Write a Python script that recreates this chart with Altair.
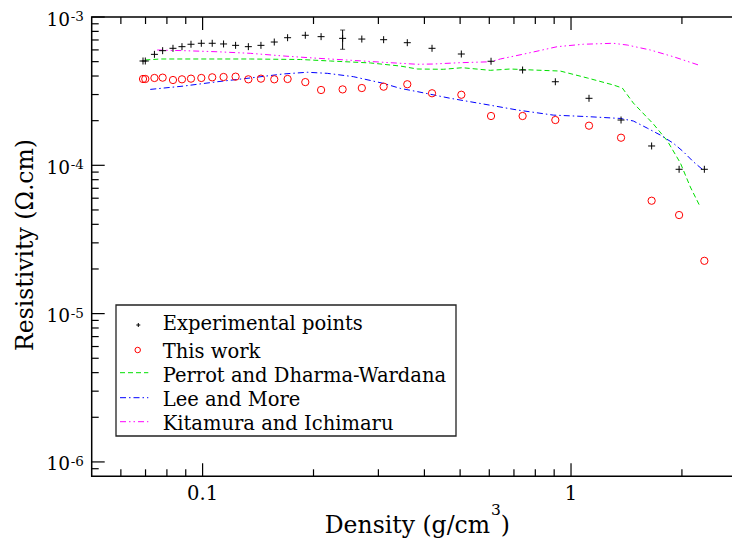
import altair as alt
import pandas as pd

# ---------------- data ----------------
density = [0.0689, 0.0699, 0.0740, 0.0779, 0.0831, 0.0879, 0.0930, 0.0992, 0.1062, 0.1140,
           0.1229, 0.1331, 0.1440, 0.1565, 0.1701, 0.1900, 0.2097, 0.2399, 0.2705, 0.3100,
           0.3594, 0.4195, 0.5038, 0.6066, 0.7389, 0.9066, 1.119, 1.367, 1.655, 1.965, 2.301]
experimental = [5.05e-4, 5.05e-4, 5.60e-4, 5.93e-4, 6.15e-4, 6.31e-4, 6.55e-4, 6.65e-4, 6.65e-4, 6.58e-4,
                6.44e-4, 6.31e-4, 6.44e-4, 6.78e-4, 7.25e-4, 7.53e-4, 7.37e-4, 7.18e-4, 7.10e-4, 7.03e-4,
                6.71e-4, 6.15e-4, 5.63e-4, 5.03e-4, 4.39e-4, 3.66e-4, 2.83e-4, 2.02e-4, 1.35e-4, 9.4e-5, 9.4e-5]
this_work = [3.82e-4, 3.82e-4, 3.88e-4, 3.90e-4, 3.76e-4, 3.80e-4, 3.84e-4, 3.88e-4, 3.92e-4, 3.94e-4,
             3.96e-4, 3.80e-4, 3.84e-4, 3.80e-4, 3.82e-4, 3.64e-4, 3.22e-4, 3.25e-4, 3.32e-4, 3.39e-4,
             3.52e-4, 3.06e-4, 2.99e-4, 2.15e-4, 2.15e-4, 2.02e-4, 1.85e-4, 1.535e-4, 5.77e-5, 4.62e-5, 2.27e-5]

err_x = [0.2399]
err_lo = [6.06e-4]
err_hi = [8.17e-4]

perrot_x = [0.0699, 0.0768, 0.0986, 0.1347, 0.1842, 0.2222, 0.2852, 0.3441, 0.3826, 0.4502, 0.5070, 0.6040,
            0.6844, 0.7903, 0.9355, 1.1075, 1.303, 1.378, 1.476, 1.673, 1.826, 1.981, 2.108, 2.244]
perrot_y = [5.13e-4, 5.21e-4, 5.21e-4, 5.21e-4, 5.17e-4, 5.05e-4, 4.90e-4, 4.67e-4, 4.46e-4, 4.44e-4, 4.55e-4, 4.37e-4,
            4.46e-4, 4.39e-4, 4.32e-4, 3.88e-4, 3.48e-4, 3.32e-4, 2.63e-4, 1.90e-4, 1.46e-4, 1.036e-4, 7.14e-5, 5.23e-5]

lee_x = [0.0721, 0.0886, 0.1096, 0.1347, 0.1656, 0.1924, 0.2181, 0.2566, 0.3094, 0.3441, 0.3826, 0.4703,
         0.5781, 0.7150, 0.8954, 1.1075, 1.361, 1.476, 1.611, 1.747, 1.895, 2.018, 2.148, 2.272]
lee_y = [3.25e-4, 3.42e-4, 3.66e-4, 3.88e-4, 4.13e-4, 4.24e-4, 4.17e-4, 3.96e-4, 3.57e-4, 3.30e-4, 3.14e-4, 2.83e-4,
         2.59e-4, 2.36e-4, 2.18e-4, 2.13e-4, 2.07e-4, 1.99e-4, 1.78e-4, 1.60e-4, 1.41e-4, 1.235e-4, 1.057e-4, 9.40e-5]

kit_x = [0.0753, 0.0886, 0.1096, 0.1347, 0.1656, 0.2048, 0.2455, 0.3094, 0.3826, 0.4229, 0.5007,
         0.6040, 0.6428, 0.7611, 0.9183, 1.080, 1.302, 1.421, 1.642, 1.895, 2.216]
kit_y = [5.99e-4, 5.93e-4, 5.83e-4, 5.69e-4, 5.46e-4, 5.27e-4, 5.13e-4, 4.95e-4, 4.80e-4, 4.82e-4, 4.92e-4,
         4.99e-4, 5.21e-4, 5.69e-4, 6.31e-4, 6.55e-4, 6.65e-4, 6.47e-4, 5.99e-4, 5.40e-4, 4.75e-4]

x_major = [0.1, 1.0]
x_major_labels = ["0.1", "1"]
x_minor = [0.06, 0.07, 0.08, 0.09, 0.2, 0.3, 0.4, 0.5, 0.6, 0.7, 0.8, 0.9, 2.0, 3.0]
y_major = [1e-3, 1e-4, 1e-5, 1e-6]
y_exponents = ["-3", "-4", "-5", "-6"]
y_minor = [m * 10.0 ** e for e in (-4, -5, -6) for m in range(2, 10)] + [9e-7]

legend_labels = ["Experimental points", "This work", "Perrot and Dharma-Wardana",
                 "Lee and More", "Kitamura and Ichimaru"]

# ---------------- layout / style ----------------
W = 655.1
H = 459.3
FONT = "DejaVu Serif"
GREEN = "#00e000"
BLUE = "#0000ff"
MAGENTA = "#ff00ff"
PLUS = "M-1,0L1,0M0,-1L0,1"

xs = alt.Scale(type="log", domain=[0.05, 3], nice=False)
ys = alt.Scale(type="log", domain=[8e-7, 1e-3], nice=False)


def X(f):
    return alt.X(f"{f}:Q", scale=xs, axis=None)


def Y(f):
    return alt.Y(f"{f}:Q", scale=ys, axis=None)


one = pd.DataFrame({"k": [0]})
layers = []

# frame ticks (pointing inward, on all four sides)
xmaj = pd.DataFrame({"v": x_major})
xmin = pd.DataFrame({"v": x_minor})
ymaj = pd.DataFrame({"v": y_major})
ymin = pd.DataFrame({"v": y_minor})
for df, L in ((xmaj, 13), (xmin, 7)):
    layers.append(alt.Chart(df).mark_rule(color="black", strokeWidth=1.2).encode(
        x=X("v"), y=alt.value(H), y2=alt.value(H - L)))
    layers.append(alt.Chart(df).mark_rule(color="black", strokeWidth=1.2).encode(
        x=X("v"), y=alt.value(0), y2=alt.value(L)))
for df, L in ((ymaj, 13), (ymin, 7)):
    layers.append(alt.Chart(df).mark_rule(color="black", strokeWidth=1.2).encode(
        y=Y("v"), x=alt.value(0), x2=alt.value(L)))
    layers.append(alt.Chart(df).mark_rule(color="black", strokeWidth=1.2).encode(
        y=Y("v"), x=alt.value(W), x2=alt.value(W - L)))

# tick labels
layers.append(alt.Chart(pd.DataFrame({"v": x_major, "t": x_major_labels})).mark_text(
    font=FONT, fontSize=19.5, align="center", baseline="alphabetic").encode(
    x=X("v"), y=alt.value(H + 24), text="t:N"))
layers.append(alt.Chart(pd.DataFrame({"v": y_major, "e": y_exponents})).mark_text(
    font=FONT, fontSize=18.5, align="right", baseline="middle", dy=2.5).encode(
    y=Y("v"), x=alt.value(-21.7), text=alt.value("10")))
layers.append(alt.Chart(pd.DataFrame({"v": y_major, "e": y_exponents})).mark_text(
    font=FONT, fontSize=13.5, align="left", baseline="middle", dy=0).encode(
    y=Y("v"), x=alt.value(-21.0), text="e:N"))

# axis titles
layers.append(alt.Chart(one).mark_text(font=FONT, fontSize=23.5, align="right", baseline="alphabetic").encode(
    x=alt.value(398.3), y=alt.value(516), text=alt.value("Density (g/cm")))
layers.append(alt.Chart(one).mark_text(font=FONT, fontSize=15.5, align="left", baseline="alphabetic").encode(
    x=alt.value(399.3), y=alt.value(497.5), text=alt.value("3")))
layers.append(alt.Chart(one).mark_text(font=FONT, fontSize=23.5, align="left", baseline="alphabetic").encode(
    x=alt.value(409), y=alt.value(516), text=alt.value(")")))
layers.append(alt.Chart(one).mark_text(font=FONT, fontSize=23.5, align="center", baseline="alphabetic", angle=270).encode(
    x=alt.value(-58.4), y=alt.value(228), text=alt.value("Resistivity (\u03a9.cm)")))

# model curves
layers.append(alt.Chart(pd.DataFrame({"x": perrot_x, "y": perrot_y})).mark_line(
    color=GREEN, strokeWidth=1, strokeDash=[5, 3]).encode(x=X("x"), y=Y("y")))
layers.append(alt.Chart(pd.DataFrame({"x": lee_x, "y": lee_y})).mark_line(
    color=BLUE, strokeWidth=1, strokeDash=[6, 3, 1.5, 3]).encode(x=X("x"), y=Y("y")))
layers.append(alt.Chart(pd.DataFrame({"x": kit_x, "y": kit_y})).mark_line(
    color=MAGENTA, strokeWidth=1, strokeDash=[6, 3, 1.5, 3, 1.5, 3]).encode(x=X("x"), y=Y("y")))

# points
pts = pd.DataFrame({"d": density, "exp": experimental, "tw": this_work})
layers.append(alt.Chart(pts).mark_point(shape="circle", size=53, filled=False, color="red",
                                        strokeWidth=1, opacity=1).encode(x=X("d"), y=Y("tw")))
layers.append(alt.Chart(pts).mark_point(shape=PLUS, size=49, filled=False, color="black",
                                        strokeWidth=1, opacity=1).encode(x=X("d"), y=Y("exp")))

# error bar
err = pd.DataFrame({"x": err_x, "lo": err_lo, "hi": err_hi})
layers.append(alt.Chart(err).mark_rule(color="black", strokeWidth=1).encode(
    x=X("x"), y=Y("lo"), y2="hi:Q"))
layers.append(alt.Chart(err).mark_tick(color="black", thickness=1, size=5, orient="horizontal").encode(
    x=X("x"), y=Y("lo")))
layers.append(alt.Chart(err).mark_tick(color="black", thickness=1, size=5, orient="horizontal").encode(
    x=X("x"), y=Y("hi")))

# legend box
layers.append(alt.Chart(one).mark_rect(fill="white", stroke="#222222", strokeWidth=1.3).encode(
    x=alt.value(24.3), x2=alt.value(364.3), y=alt.value(288), y2=alt.value(419)))
text_y = [313, 341.3, 364.7, 389, 413]
for lab, ty in zip(legend_labels, text_y):
    layers.append(alt.Chart(one).mark_text(font=FONT, fontSize=19.5, align="left", baseline="alphabetic").encode(
        x=alt.value(71), y=alt.value(ty), text=alt.value(lab)))
layers.append(alt.Chart(one).mark_point(shape=PLUS, size=16, filled=False, color="black", strokeWidth=1,
                                        opacity=1).encode(x=alt.value(46.6), y=alt.value(308)))
layers.append(alt.Chart(one).mark_point(shape="circle", size=30, filled=False, color="red", strokeWidth=1,
                                        opacity=1).encode(x=alt.value(46), y=alt.value(333)))
for col, dash, ly in ((GREEN, [5, 3], 355.7), (BLUE, [6, 3, 1.5, 3], 380.7),
                      (MAGENTA, [6, 3, 1.5, 3, 1.5, 3], 404.7)):
    layers.append(alt.Chart(one).mark_rule(color=col, strokeWidth=1, strokeDash=dash).encode(
        x=alt.value(28.3), x2=alt.value(56.6), y=alt.value(ly)))

chart = alt.layer(*layers).properties(
    width=W, height=H,
    padding={"left": 83.7, "top": 9, "right": -14.8, "bottom": 61.7},
    autosize=alt.AutoSizeParams(type="none"),
    background="white",
).configure_view(stroke="black", strokeWidth=1.5)

chart.save("out.html", embed_options={"renderer": "svg", "actions": False})
